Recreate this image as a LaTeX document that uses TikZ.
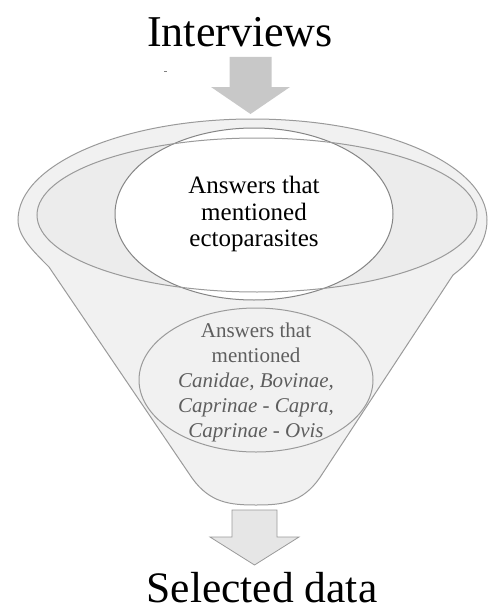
\documentclass[tikz,border=0pt]{standalone}
\usepackage{fontspec}
\setmainfont{Liberation Serif}
\usepackage{tikz}
\usetikzlibrary{shapes.geometric}
\definecolor{bodyfill}{HTML}{F1F1F1}
\definecolor{rimfill}{HTML}{ECECEC}
\definecolor{linegray}{HTML}{9A9A9A}
\definecolor{darkline}{HTML}{858585}
\definecolor{arrowtop}{HTML}{C8C8C8}
\definecolor{arrowbot}{HTML}{E6E6E6}
\definecolor{lowtext}{HTML}{5E5E5E}
\tikzset{
  funnelline/.style={draw=linegray, line width=1pt},
  bigtitle/.style={font=\fontsize{44}{50}\selectfont, inner sep=0pt, anchor=base},
  uptext/.style={font=\fontsize{25}{26.5}\selectfont, align=center, inner sep=0pt},
  lowlabel/.style={font=\fontsize{21}{25}\selectfont, align=center, inner sep=0pt, text=lowtext},
  ellbox/.style={ellipse, inner sep=0pt, line width=1pt},
}
\begin{document}
\begin{tikzpicture}[x=1pt,y=-1pt]
\useasboundingbox (0,0) rectangle (489,610);
% titles
\node[bigtitle] (interviews) at (240,47) {Interviews};
\node[bigtitle, font=\fontsize{43.5}{50}\selectfont] (selected) at (262,602) {Selected data};
% stray mark
\draw[gray, line width=0.8pt] (164,71) -- (167,71);
% top arrow
\fill[arrowtop] (229.5,57) -- (271.5,57) -- (271.5,87) -- (290,87) -- (250.5,114) -- (211,87) -- (229.5,87) -- cycle;
% funnel body
\path[funnelline, fill=bodyfill]
  (18,220) arc[start angle=180, end angle=0, x radius=234.5pt, y radius=101pt]
  .. controls (487,245) and (470,262) .. (453,275)
  -- (319.6,478)
  .. controls (302,503) and (282,505) .. (256,505)
  .. controls (230,505) and (210,503) .. (192,478)
  -- (49,267)
  .. controls (32,250) and (18,236) .. (18,220) -- cycle;
% rim ellipse fill
\node[ellbox, fill=rimfill, minimum width=440pt, minimum height=154pt] (rim) at (257,215) {};
% white ellipse
\node[ellbox, draw=darkline, fill=white, minimum width=278pt, minimum height=172pt] (upper) at (254,214) {};
% rim ellipse stroke on top
\node[ellbox, draw=linegray, minimum width=440pt, minimum height=154pt] (rimline) at (257,215) {};
% lower ellipse
\node[ellbox, draw=linegray, fill=bodyfill, minimum width=234pt, minimum height=144pt] (lower) at (256,380) {};
% texts
\node[uptext] (uptxt) at (254,214) {Answers that\\mentioned\\ectoparasites};
\node[lowlabel] (lowtxt) at (256,382) {Answers that\\mentioned\\\textit{Canidae, Bovinae,}\\\textit{Caprinae - Capra,}\\\textit{Caprinae - Ovis}};
% bottom arrow
\path[draw=linegray, line width=0.8pt, fill=arrowbot] (232,510) -- (277,510) -- (277,537) -- (299,537) -- (254.5,565) -- (210,537) -- (232,537) -- cycle;
\end{tikzpicture}
\end{document}
